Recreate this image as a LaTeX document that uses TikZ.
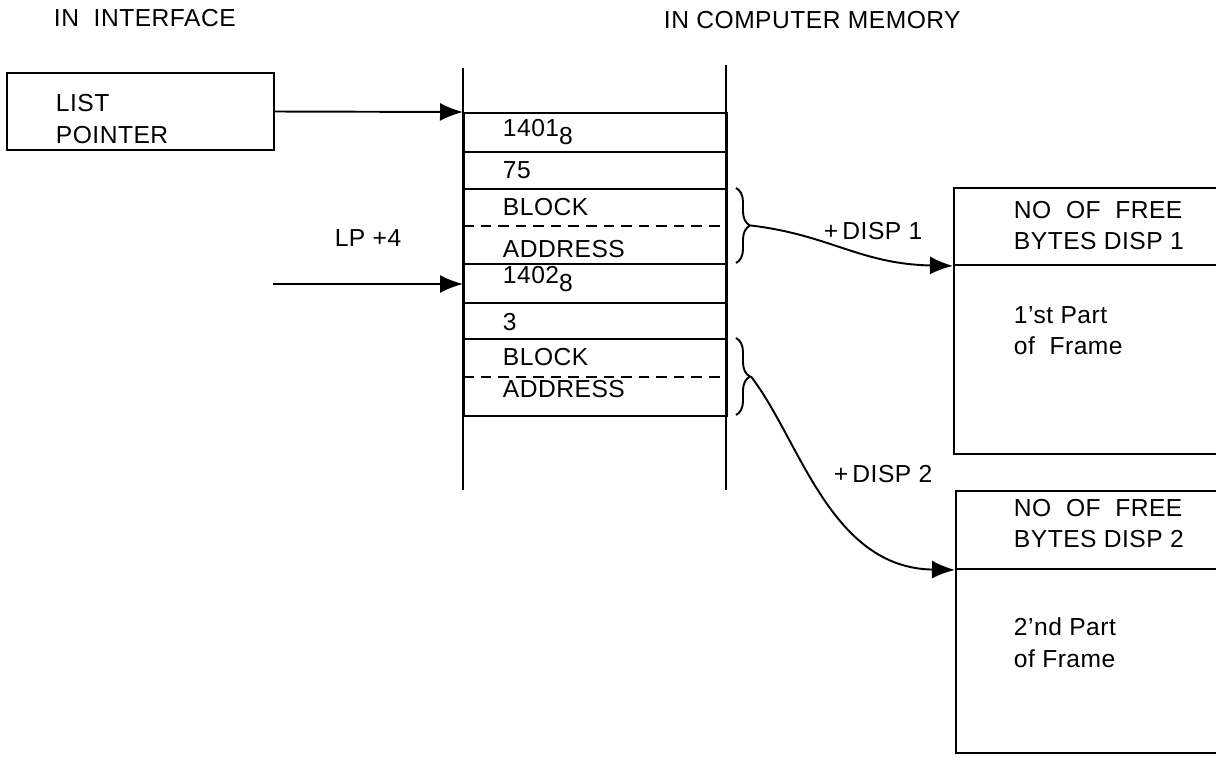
\documentclass[tikz,border=0pt]{standalone}
\usepackage{fontspec}
\setmainfont{Liberation Sans}[LetterSpace=2]
\usetikzlibrary{arrows.meta,positioning,decorations.pathreplacing}

\begin{document}
\begin{tikzpicture}[
  x=0.02cm, y=-0.02cm, line width=1.1pt,
  cell/.style={draw, minimum width=5.26cm, inner sep=0pt, anchor=north west},
  frame/.style={draw, minimum width=5.54cm, inner sep=0pt, anchor=north west},
  txt/.style={anchor=base west, inner sep=0pt, font=\fontsize{14}{18}\selectfont},
  lines/.style={anchor=west, align=left, inner sep=0pt, font=\fontsize{14}{18}\selectfont},
  ptr/.style={-{Latex[length=4.6mm,width=3.6mm]}},
  split/.style={dash pattern=on 6pt off 4pt},
  curly/.style={decorate, decoration={brace, amplitude=0.28cm}},
]
\useasboundingbox (0,0) rectangle (1216,758);
% headings
\node[txt] (hif) at (53,26) {IN\ \ INTERFACE};
\node[txt] (hmem) at (663,28) {IN COMPUTER MEMORY};
% interface register
\node[draw, minimum width=5.34cm, minimum height=1.54cm, inner sep=0pt] (lp) at (140.5,111.5) {};
\node[lines] (lptxt) at (55,119) {LIST\\POINTER};
% memory column
\draw (463,68) -- (463,490);
\draw (726,65) -- (726,490);
\node[cell, minimum height=0.78cm] (c1) at (463,112) {};
\node[cell, minimum height=0.74cm] (c2) at (463,151) {};
\node[cell, minimum height=1.50cm] (c3) at (463,188) {};
\node[cell, minimum height=0.78cm] (c4) at (463,263) {};
\node[cell, minimum height=0.72cm] (c5) at (463,302) {};
\node[cell, minimum height=1.54cm] (c6) at (463,338) {};
\draw[split] (c3.west) -- (c3.east);
\draw[split] (c6.west |- 0,377) -- (c6.east |- 0,377);
\node[txt] (t1) at (502,136) {1401\lower5pt\hbox{8}};
\node[txt] (t2) at (502,178) {75};
\node[txt] (t3) at (502,215) {BLOCK};
\node[txt] (t4) at (502,257) {ADDRESS};
\node[txt] (t5) at (502,283) {1402\lower5pt\hbox{8}};
\node[txt] (t6) at (502,330) {3};
\node[txt] (t7) at (502,365) {BLOCK};
\node[txt] (t8) at (502,397) {ADDRESS};
% braces
\draw[curly] (736,188) -- (736,263) coordinate[pos=0.5, xshift=0.3cm] (b1);
\draw[curly] (736,338) -- (736,415) coordinate[pos=0.5, xshift=0.3cm] (b2);
% frame parts
\node[frame, minimum height=1.54cm] (h1) at (953,187) {};
\node[frame, minimum height=3.78cm] (f1) at (953,264) {};
\node[lines] (h1txt) at (1013,225.5) {NO\ \ OF\ \ FREE\\BYTES DISP 1};
\node[lines] (f1txt) at (1013,330.5) {1’st Part\\of\ \ Frame};
\node[frame, minimum height=1.56cm] (h2) at (955,490) {};
\node[frame, minimum height=3.68cm] (f2) at (955,568) {};
\node[lines] (h2txt) at (1013,523.5) {NO\ \ OF\ \ FREE\\BYTES DISP 2};
\node[lines] (f2txt) at (1013,642.5) {2’nd Part\\of Frame};
% pointers
\coordinate (lp4) at (273,284);
\draw[ptr] (lp.east) -- (c1.north west);
\draw[ptr] (lp4) -- node[txt, anchor=base, above=21pt, inner sep=0pt] (lplbl) {LP +4} (lp4 -| c4.west);
\draw[ptr] (b1) .. controls (830,235) and (860,264) .. (h1.south west);
\draw[ptr] (b2) .. controls (800,440) and (830,568) .. (h2.south west);
\node[txt] (d1) at (823,239) {+\,DISP 1};
\node[txt] (d2) at (833,482) {+\,DISP 2};
\end{tikzpicture}
\end{document}
